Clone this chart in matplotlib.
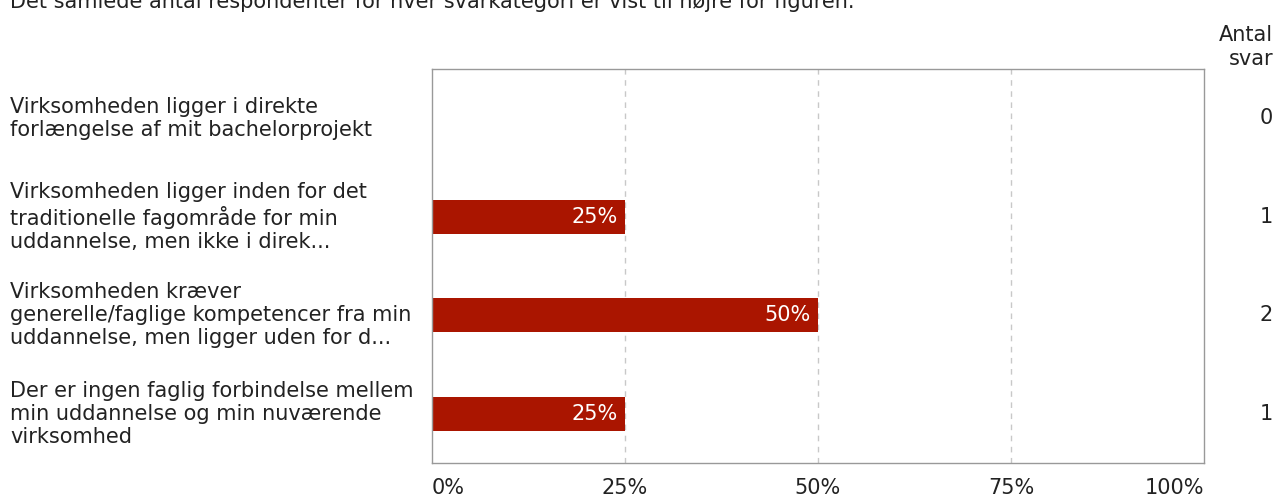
import matplotlib
matplotlib.use("Agg")
import matplotlib.pyplot as plt

labels = [
    "Virksomheden ligger i direkte\nforlængelse af mit bachelorprojekt",
    "Virksomheden ligger inden for det\ntraditionelle fagområde for min\nuddannelse, men ikke i direk...",
    "Virksomheden kræver\ngenerelle/faglige kompetencer fra min\nuddannelse, men ligger uden for d...",
    "Der er ingen faglig forbindelse mellem\nmin uddannelse og min nuværende\nvirksomhed",
]
pct = [0, 25, 50, 25]
counts = [0, 1, 2, 1]
xticks = [0, 25, 50, 75, 100]

W, H = 1278, 499
fig = plt.figure(figsize=(W / 100, H / 100), dpi=100)
ax = fig.add_axes([432 / W, 1 - 463 / H, (1204 - 432) / W, (463 - 69) / H])

fs = 15
color = "#aa1500"
txt = "#222222"
ypos = list(range(len(labels)))

ax.barh(ypos, pct, height=0.35, color=color, zorder=2)
for y, p in zip(ypos, pct):
    if p > 0:
        ax.text(p - 0.9, y, f"{p}%", color="white", ha="right", va="center",
                fontsize=fs, zorder=3)

ax.set_xlim(0, 100)
ax.set_ylim(3.5, -0.5)
ax.set_yticks([])
ax.set_xticks(xticks)
ax.set_xticklabels([f"{t}%" for t in xticks], fontsize=fs)
ax.tick_params(axis="x", length=0, pad=11, colors=txt)
tl = ax.get_xticklabels()
tl[0].set_ha("left")
tl[-1].set_ha("right")
for t in [25, 50, 75]:
    ax.axvline(t, color="#c8c8c8", linestyle=(0, (4, 4)), linewidth=1, zorder=1)
for s in ax.spines.values():
    s.set_color("#999999")
    s.set_linewidth(1)

# category labels on the left, counts on the right
for y, lab, c in zip(ypos, labels, counts):
    ax.text(-1.0 * (432 - 10) / (1204 - 432) * 100, y, lab, ha="left", va="center",
            fontsize=fs, color=txt, linespacing=1.2, clip_on=False)
    ax.text(100 + (1273 - 1204) / (1204 - 432) * 100, y, str(c), ha="right",
            va="center", fontsize=fs, color=txt, clip_on=False)

fig.text(1273 / W, 1 - 47 / H, "Antal\nsvar", ha="right", va="center",
         fontsize=fs, color=txt, multialignment="right", linespacing=1.2)
fig.text(10 / W, 1 - 8 / H,
         "Det samlede antal respondenter for hver svarkategori er vist til højre for figuren.",
         ha="left", va="baseline", fontsize=fs, color=txt)

fig.savefig("out.png", dpi=100)
